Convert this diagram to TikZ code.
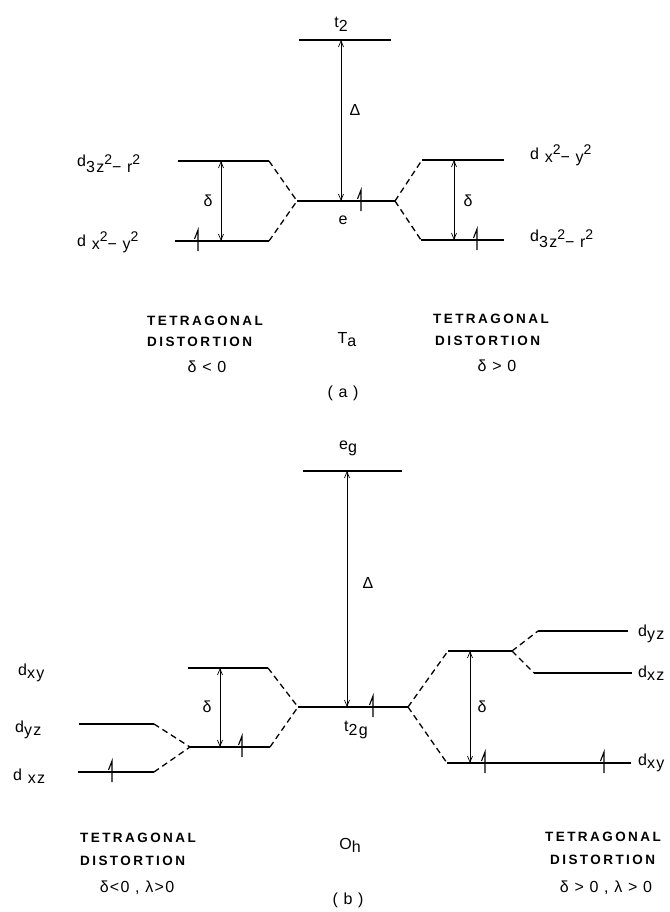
\documentclass[tikz,border=0pt]{standalone}
\usepackage{fontspec}
\setmainfont{Liberation Sans}
\newfontfamily\tagfont[LetterSpace=18]{Liberation Sans}
\newfontfamily\lblfont[LetterSpace=8]{Liberation Sans}
\usetikzlibrary{arrows.meta}

% lowered / raised pieces of the orbital labels
\newcommand{\lsub}[2][6pt]{\raisebox{-#1}{#2}}
\newcommand{\lsup}[1]{\raisebox{8pt}{\fontsize{14}{14}\selectfont #1}}

\begin{document}
\begin{tikzpicture}[x=1pt, y=-1pt,
  lvl/.style={minimum width=#1, minimum height=0pt, inner sep=0pt, outer sep=0pt},
  orb/.style={line width=1.6pt},
  link/.style={line width=1.3pt, dash pattern=on 6pt off 4pt},
  gaparrow/.style={{Straight Barb[length=6pt,width=5pt]}-{Straight Barb[length=6pt,width=5pt]}, line width=0.7pt},
  lbl/.style={font=\lblfont\fontsize{16}{18}\selectfont, inner sep=0pt},
  greek/.style={font=\lblfont\fontsize{16}{18}\selectfont, inner sep=0pt},
  tag/.style={font=\tagfont\bfseries\fontsize{13.5}{15}\selectfont, inner sep=0pt},
  spin/.pic={\draw[line width=1.1pt] (0,10) -- (0,-11) -- (-3.5,-2);}
]
\useasboundingbox (0,0) rectangle (669,912);

%% (a) tetrahedral
\node[lvl=92] (t2) at (345,40) {};
\node[lvl=98] (e) at (346,201) {};
\node[lvl=91] (aLu) at (223.5,161) {};
\node[lvl=94] (aLd) at (222,241) {};
\node[lvl=82] (aRu) at (463,160) {};
\node[lvl=83] (aRd) at (462.5,240) {};

%% (b) octahedral
\node[lvl=99] (eg) at (352.5,471) {};
\node[lvl=110] (t2g) at (353,707) {};
\node[lvl=80] (bLu) at (228,668) {};
\node[lvl=80] (bLm) at (230,747) {};
\node[lvl=75] (bLyz) at (116.5,724) {};
\node[lvl=76] (bLxz) at (116,772) {};
\node[lvl=64] (bRu) at (480,651) {};
\node[lvl=184] (bRd) at (539,763) {};
\node[lvl=90] (bRyz) at (583,631) {};
\node[lvl=98] (bRxz) at (583,673) {};

\foreach \l in {t2,e,aLu,aLd,aRu,aRd,eg,t2g,bLu,bLm,bLyz,bLxz,bRu,bRd,bRyz,bRxz}
  \draw[orb] (\l.west) -- (\l.east);

% correlation lines
\draw[link] (aLu.east) -- (e.west);
\draw[link] (aLd.east) -- (e.west);
\draw[link] (e.east) -- (aRu.west);
\draw[link] (e.east) -- (aRd.west);
\draw[link] (bLyz.east) -- (bLm.west);
\draw[link] (bLxz.east) -- (bLm.west);
\draw[link] (bLu.east) -- (t2g.west);
\draw[link] (bLm.east) -- (t2g.west);
\draw[link] (t2g.east) -- (bRu.west);
\draw[link] (t2g.east) -- (bRd.west);
\draw[link] (bRu.east) -- (bRyz.west);
\draw[link] (bRu.east) -- (bRxz.west);

% splittings
\draw[gaparrow] ([xshift=-4]t2.center) -- ([xshift=-5]e.center);
\draw[gaparrow] ([xshift=-2.5]aLu.center) -- ([xshift=-1]aLd.center);
\draw[gaparrow] ([xshift=-9]aRu.center) -- ([xshift=-8.5]aRd.center);
\draw[gaparrow] ([xshift=-5.5]eg.center) -- ([xshift=-6]t2g.center);
\draw[gaparrow] ([xshift=-8]bLu.center) -- ([xshift=-10]bLm.center);
\draw[gaparrow] ([xshift=-10]bRu.center) -- ([xshift=-69]bRd.center);

% electrons
\pic at ([xshift=-24]aLd.center) {spin};
\pic at ([xshift=15]e.center) {spin};
\pic at ([xshift=14.5]aRd.center) {spin};
\pic at ([xshift=-4]bLxz.center) {spin};
\pic at ([xshift=12]bLm.center) {spin};
\pic at ([xshift=20]t2g.center) {spin};
\pic at ([xshift=-54]bRd.center) {spin};
\pic at ([xshift=65]bRd.center) {spin};

%% labels (a)
\node[lbl] (t2lab) at (341,24) {t\lsub[4pt]{2}};
\node[lbl] (elab) at (343,220) {e};
\node[greek] (Dalab) at (355,110) {Δ};
\node[greek] (dLa) at (208,201) {δ};
\node[greek] (dRa) at (468,201) {δ};
\node[lbl, anchor=base west] (zLa) at (77,167) {d\lsub{3z\lsup{2}− r\lsup{2}}};
\node[lbl, anchor=base west] (xLa) at (77,246) {d \lsub[3pt]{x\lsup{2}− y\lsup{2}}};
\node[lbl, anchor=base west] (xRa) at (530,160) {d \lsub[3pt]{x\lsup{2}− y\lsup{2}}};
\node[lbl, anchor=base west] (zRa) at (530,241) {d\lsub{3z\lsup{2}− r\lsup{2}}};

\node[tag, anchor=west] (tetLa) at (147,321) {TETRAGONAL};
\node[tag, anchor=west] (disLa) at (147,342) {DISTORTION};
\node[greek] (cLa) at (207,367) {δ < 0};
\node[tag, anchor=west] (tetRa) at (433,319) {TETRAGONAL};
\node[tag, anchor=west] (disRa) at (435,341) {DISTORTION};
\node[greek] (cRa) at (497,366) {δ > 0};
\node[lbl] (Td) at (347,340) {T\lsub[3pt]{a}};
\node[lbl] (capa) at (343,393) {( a )};

%% labels (b)
\node[lbl] (eglab) at (348,448) {e\lsub[3pt]{g}};
\node[lbl] (t2glab) at (356,730) {t\lsub[4pt]{2g}};
\node[greek] (Dblab) at (368,583) {Δ};
\node[greek] (dLb) at (207,707) {δ};
\node[greek] (dRb) at (482,707) {δ};
\node[lbl, anchor=base west] (xyL) at (18,675) {d\lsub[3pt]{xy}};
\node[lbl, anchor=base west] (yzL) at (15,732) {d\lsub[3pt]{yz}};
\node[lbl, anchor=base west] (xzL) at (13,780) {d \lsub[3pt]{xz}};
\node[lbl, anchor=base west] (yzR) at (638,636) {d\lsub[3pt]{yz}};
\node[lbl, anchor=base west] (xzR) at (638,677) {d\lsub[3pt]{xz}};
\node[lbl, anchor=base west] (xyR) at (638,765) {d\lsub[3pt]{xy}};

\node[tag, anchor=west] (tetLb) at (80,838) {TETRAGONAL};
\node[tag, anchor=west] (disLb) at (80,861) {DISTORTION};
\node[greek] (cLb) at (137,888) {δ<0 , λ>0};
\node[tag, anchor=west] (tetRb) at (545,837) {TETRAGONAL};
\node[tag, anchor=west] (disRb) at (550,860) {DISTORTION};
\node[greek] (cRb) at (606,888) {δ > 0 , λ > 0};
\node[lbl] (Oh) at (350,845) {O\lsub[3pt]{h}};
\node[lbl] (capb) at (348,900) {( b )};
\end{tikzpicture}
\end{document}
